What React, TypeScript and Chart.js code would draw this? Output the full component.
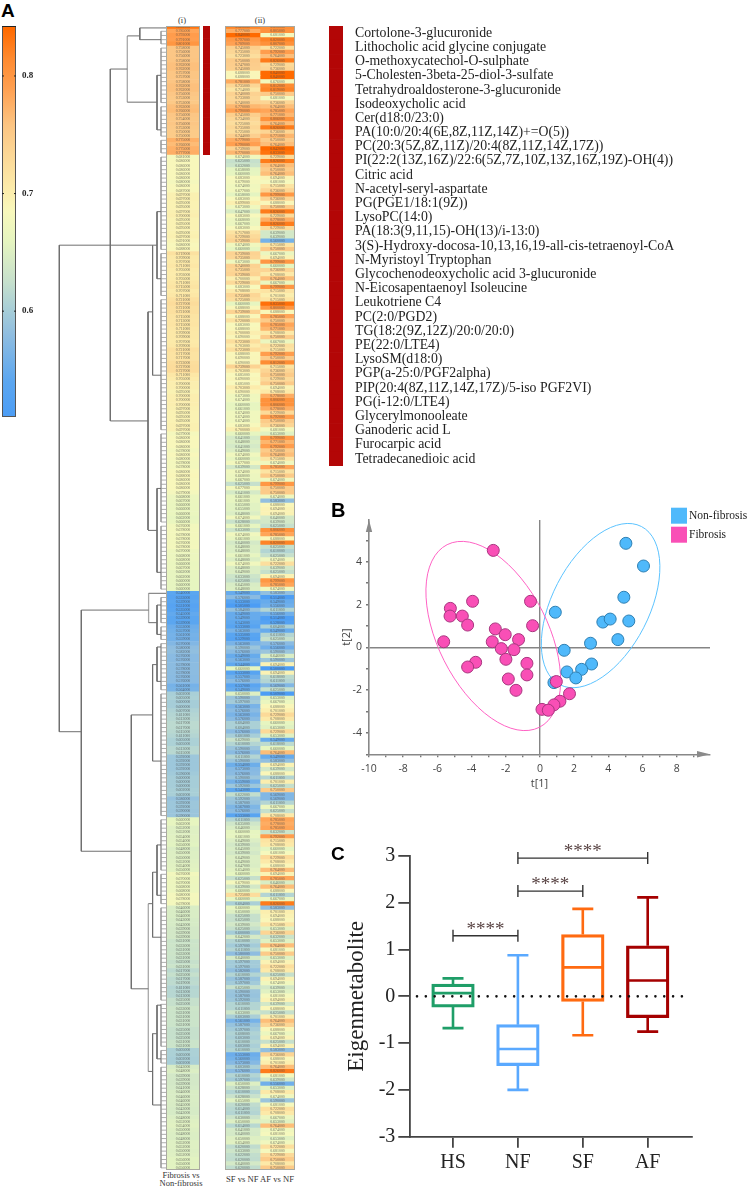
import React, { useEffect, useRef } from 'react';
import { Chart, registerables } from 'chart.js';

Chart.register(...registerables);

const SERIF = '"Liberation Serif"';
const SANS = '"Open Sans"';

// ---------- Panel A: heat map values, in thousandths ----------
const fibrosisVsNonFibrosis = [
  832,785,793,791,801,758,756,756,758,762,
  762,757,757,758,762,762,756,753,753,763,
  766,756,754,756,753,750,750,775,766,775,
  777,681,686,686,686,686,686,680,686,687,
  697,697,695,695,697,700,695,695,695,695,
  697,691,686,688,719,709,707,711,705,703,
  705,711,715,707,711,721,727,721,721,715,
  713,715,711,709,709,707,709,721,717,717,
  723,727,727,711,705,700,700,695,700,700,
  700,697,695,695,695,697,697,679,686,686,
  686,678,686,680,678,678,686,688,686,686,
  686,679,668,667,666,666,666,662,666,676,
  678,678,678,676,678,670,668,668,666,667,
  662,662,660,660,660,540,533,539,531,535,
  545,539,539,553,557,561,559,570,580,582,
  576,576,578,578,578,576,576,561,564,602,
  605,600,600,607,611,613,617,617,615,611,
  605,605,613,615,592,592,592,592,596,600,
  600,600,602,602,586,592,592,590,590,660,
  662,652,652,654,654,656,648,650,650,652,
  654,656,676,670,670,668,668,680,678,678,
  646,646,646,643,643,639,639,639,631,633,
  631,633,631,625,631,617,625,617,619,611,
  613,613,625,625,633,631,631,631,631,625,
  625,625,631,631,605,605,602,602,643,648,
  639,639,639,641,646,646,646,645,643,643,
  648,652,654,650,648,648,652,652,650,652,
  656,656,656,
];
const sfVsNf = [
  820,777,840,797,789,745,735,723,750,747,
  745,688,688,781,735,714,740,733,740,770,
  790,745,734,725,735,725,744,779,790,739,
  770,674,625,632,658,660,683,679,674,677,
  658,683,699,673,647,683,668,667,683,717,
  729,739,674,660,739,735,673,740,735,739,
  700,729,683,708,735,725,660,688,739,688,
  720,683,688,700,690,723,703,723,688,690,
  690,739,703,685,690,685,703,690,673,674,
  660,661,674,674,674,683,700,660,641,648,
  641,649,674,660,677,639,674,668,667,625,
  677,641,661,661,655,655,648,674,628,661,
  633,674,661,640,648,648,661,648,674,648,
  649,633,625,645,648,549,576,533,505,584,
  549,549,543,533,563,535,529,563,590,576,
  549,563,544,660,533,557,576,537,549,650,
  590,597,563,576,563,576,604,604,576,601,
  629,610,590,576,611,590,554,573,576,590,
  559,592,543,622,592,587,567,576,533,611,
  635,646,660,661,649,639,645,639,649,649,
  647,654,660,625,679,639,660,725,660,604,
  660,650,625,625,639,625,600,642,610,597,
  611,580,640,597,597,582,610,587,597,625,
  590,587,592,610,611,633,603,561,587,597,
  608,603,610,603,610,553,560,573,603,576,
  610,597,650,628,610,628,655,620,614,611,
  630,650,614,641,640,650,654,620,633,622,
  620,640,620,
];
const afVsNf = [
  810,805,681,820,807,722,792,764,826,729,
  736,840,840,676,812,819,750,681,736,764,
  785,771,806,764,826,736,771,750,764,842,
  833,729,826,764,750,764,694,681,715,736,
  799,736,688,750,826,729,778,826,729,639,
  639,560,715,750,667,694,799,660,736,708,
  764,667,799,715,701,715,835,800,688,785,
  750,785,771,708,750,667,722,715,792,750,
  812,715,736,750,729,750,694,708,778,806,
  806,778,729,792,750,736,681,653,799,771,
  792,750,764,715,674,785,715,750,674,799,
  750,750,674,583,688,694,694,640,639,625,
  806,785,688,820,625,610,625,674,722,639,
  625,694,799,785,674,583,514,549,556,611,
  556,514,528,604,549,611,625,576,556,590,
  646,590,694,500,694,618,611,569,625,509,
  653,667,688,701,729,708,660,653,729,653,
  549,618,660,764,549,583,694,639,688,611,
  701,625,750,569,569,611,667,625,708,785,
  778,785,632,792,715,708,660,681,729,708,
  688,764,694,785,646,764,688,611,667,826,
  583,701,694,688,715,653,736,632,653,764,
  681,750,653,694,722,708,625,694,674,639,
  653,681,694,639,688,625,701,764,736,688,
  667,694,625,694,583,736,688,701,764,826,
  681,639,556,653,708,674,590,681,722,708,
  667,653,764,674,681,653,674,722,681,729,
  750,708,750,
];

const colorStops: [number, string][] = [
  [0.51, '#4c9df5'], [0.54, '#5ba6f0'], [0.58, '#8fbde0'], [0.6, '#a6cdd8'], [0.625, '#c6e0cc'],
  [0.66, '#e6f5c0'], [0.685, '#f8f8bc'], [0.705, '#fcebaa'], [0.735, '#fcd695'], [0.758, '#fcc583'],
  [0.79, '#ff9f50'], [0.815, '#fe8a30'], [0.84, '#ff6a00'],
];

const metabolites = [
  'Cortolone-3-glucuronide', 'Lithocholic acid glycine conjugate', 'O-methoxycatechol-O-sulphate',
  '5-Cholesten-3beta-25-diol-3-sulfate', 'Tetrahydroaldosterone-3-glucuronide', 'Isodeoxycholic acid',
  'Cer(d18:0/23:0)', 'PA(10:0/20:4(6E,8Z,11Z,14Z)+=O(5))', 'PC(20:3(5Z,8Z,11Z)/20:4(8Z,11Z,14Z,17Z))',
  'PI(22:2(13Z,16Z)/22:6(5Z,7Z,10Z,13Z,16Z,19Z)-OH(4))', 'Citric acid', 'N-acetyl-seryl-aspartate',
  'PG(PGE1/18:1(9Z))', 'LysoPC(14:0)', 'PA(18:3(9,11,15)-OH(13)/i-13:0)',
  '3(S)-Hydroxy-docosa-10,13,16,19-all-cis-tetraenoyl-CoA', 'N-Myristoyl Tryptophan',
  'Glycochenodeoxycholic acid 3-glucuronide', 'N-Eicosapentaenoyl Isoleucine', 'Leukotriene C4',
  'PC(2:0/PGD2)', 'TG(18:2(9Z,12Z)/20:0/20:0)', 'PE(22:0/LTE4)', 'LysoSM(d18:0)', 'PGP(a-25:0/PGF2alpha)',
  'PIP(20:4(8Z,11Z,14Z,17Z)/5-iso PGF2VI)', 'PG(i-12:0/LTE4)', 'Glycerylmonooleate', 'Ganoderic acid L',
  'Furocarpic acid', 'Tetradecanedioic acid',
];

// dendrogram, in rows (y) and distance from the leaves (x)
const leafClusters = [[1,4],[5,18],[19,26],[27,30],[31,53],[54,64],[65,96],[97,118],[119,134],[136,142],[143,146],[147,158],[159,188],[189,201],[202,209],[210,232],[233,243],[244,247],[248,272]];
const branchVerticals = [[26.2,0.2,3],[9,11.5,24.5],[55.7,10,93.9],[106.7,52,168],[84.7,139,196.5],[13.4,52.1,83],[9,44,60],[18,67.9,119.9],[9,110,130],[9,137.8,144.8],[13.4,152,175],[9,147.8,156],[34.7,164,229.3],[13.4,201.5,217],[9,195,207],[13.4,240,257],[9,233.2,246]];
const lightVerticals = [[38.7,2.1,17.9],[17.4,135,142],[17.7,209,249]];
const branchHorizontals = [[0.2,26.2,0],[3,26.2,5],[2.1,38.7,26.2],[17.9,38.7,9],[10,55.7,38.7],[93.9,55.7,18],[52,106.7,9],[44,9,5],[60,9,5],[67.9,18,13.4],[83,13.4,5],[120,18,9],[110,9,5],[130,9,5],[168,106.7,84.7],[139,84.7,17.4],[135,17.4,0],[142,17.4,9],[137.8,9,5],[144.8,9,5],[196.5,84.7,34.7],[164,34.7,13.4],[152,13.4,9],[147.8,9,5],[156,9,5],[175,13.4,5],[229.3,34.7,17.7],[209,17.7,13.4],[201.5,13.4,9],[195,9,5],[207,9,5],[217,13.4,5],[249,17.7,13.4],[240,13.4,9],[233.2,9,5],[246,9,5],[257,13.4,5],[11.5,9,5],[24.5,9,5]];

// ---------- Panel B ----------
const nonFibrosisX = [5.03,6.06,4.91,0.9,3.68,4.11,5.2,4.56,2.96,1.42,3.02,2.44,1.58,2.1,0.82];
const nonFibrosisY = [4.86,3.8,2.34,1.64,1.18,1.32,1.23,0.36,0.19,-0.14,-0.78,-1.03,-1.15,-1.43,-1.65];
const fibrosisX = [-2.73,-3.94,-0.55,-5.24,-5.26,-4.54,-4.23,-0.43,-2.61,-2.03,-1.25,-5.63,-2.79,-2.26,-1.52,-1.99,-0.76,-3.76,-4.23,-0.76,-1.85,-1.4,0.96,1.73,1.17,0.82,0.12,0.49];
const fibrosisY = [4.53,2.15,2.15,1.82,1.46,1.46,1.04,1.01,0.86,0.59,0.36,0.26,0.26,-0.06,-0.11,-0.56,-0.75,-0.7,-0.92,-1.29,-1.48,-2.01,-1.6,-2.17,-2.52,-2.69,-2.9,-2.94];

// ---------- Panel C ----------
const groups = ['HS', 'NF', 'SF', 'AF'];
const whiskerHigh = [0.385, 0.88, 1.87, 2.115];
const quartile3 = [0.26, -0.605, 1.32, 1.08];
const medians = [0.07, -1.125, 0.62, 0.34];
const quartile1 = [-0.23, -1.48, -0.11, -0.455];
const whiskerLow = [-0.68, -2.0, -0.83, -0.755];
const groupColors = ['#1f9e68', '#5aa9ff', '#ff6a10', '#a50000'];
const sigFrom = [0, 1, 1];
const sigTo = [1, 2, 3];
const sigLevel = [1.296, 2.25, 2.955];

// ---------- helpers ----------
const hex = (c: string) => [1, 3, 5].map((i) => parseInt(c.slice(i, i + 2), 16));
function heatColor(v: number) {
  if (v <= colorStops[0][0]) return colorStops[0][1];
  for (let i = 1; i < colorStops.length; i++) {
    if (v <= colorStops[i][0]) {
      const [a, ca] = colorStops[i - 1];
      const [b, cb] = colorStops[i];
      const t = (v - a) / (b - a);
      const x = hex(ca), y = hex(cb);
      return `rgb(${x.map((q, k) => Math.round(q + (y[k] - q) * t)).join(',')})`;
    }
  }
  return colorStops[colorStops.length - 1][1];
}

const fit = (w?: number, h?: number) => (s: any) => {
  if (w !== undefined) s.width = w;
  if (h !== undefined) s.height = h;
  s.paddingTop = s.paddingBottom = s.paddingLeft = s.paddingRight = 0;
};
const base = {
  responsive: false,
  animation: false,
  events: [],
  layout: { padding: 0 },
};
const quiet = { legend: { display: false }, tooltip: { enabled: false } };
const ROW_MIN = -0.26;
const ROW_MAX = 272.5;
const rowAxis = { type: 'linear', display: false, reverse: true, min: ROW_MIN, max: ROW_MAX, offset: false };

function heatConfig(cols: number[][]) {
  return {
    type: 'bar',
    data: {
      datasets: cols.map((col, c) => ({
        data: col.map((_, r) => ({ y: r, x: [c, c + 1] })),
        backgroundColor: col.map((v) => heatColor(v / 1000)),
        barPercentage: 1,
        categoryPercentage: 1,
        grouped: false,
      })),
    },
    options: {
      ...base,
      indexAxis: 'y',
      plugins: quiet,
      scales: { x: { type: 'linear', display: false, min: 0, max: cols.length }, y: rowAxis },
    },
    plugins: [{
      id: 'cells',
      afterDatasetsDraw(chart: any) {
        const { ctx, scales, chartArea: a } = chart;
        ctx.save();
        ctx.beginPath();
        ctx.rect(a.left, a.top, a.width, a.height);
        ctx.clip();
        ctx.font = `3.9px ${SERIF}`;
        ctx.fillStyle = 'rgba(70,70,70,0.72)';
        ctx.textAlign = 'center';
        ctx.textBaseline = 'middle';
        cols.forEach((col, c) => {
          const x = scales.x.getPixelForValue(c + 0.5);
          col.forEach((v, r) => ctx.fillText((v / 1000).toFixed(6), x, scales.y.getPixelForValue(r)));
        });
        ctx.restore();
        ctx.strokeStyle = '#a9a9a0';
        ctx.lineWidth = 1;
        ctx.strokeRect(a.left + 0.5, a.top + 0.5, a.width - 1, a.height - 1);
      },
    }],
  };
}

function redBarConfig(labels: string[], axisWidth: number) {
  return {
    type: 'bar',
    data: {
      labels,
      datasets: [{ data: labels.map(() => 1), backgroundColor: '#b30606', barPercentage: 1, categoryPercentage: 1 }],
    },
    options: {
      ...base,
      indexAxis: 'y',
      plugins: quiet,
      scales: {
        x: { display: false, min: 0, max: 1 },
        y: axisWidth
          ? {
              position: 'right',
              afterFit: fit(axisWidth),
              border: { display: false },
              grid: { display: false, drawTicks: false },
              ticks: { autoSkip: false, padding: 12, color: '#222', font: { family: SERIF, size: 13.8 } },
            }
          : { display: false },
      },
    },
  };
}

function segments(list: number[][], vertical: boolean) {
  const out: any[] = [];
  list.forEach(([p, a, b]) => {
    if (vertical) out.push({ x: p, y: a }, { x: p, y: b });
    else out.push({ x: a, y: p }, { x: b, y: p });
    out.push({ x: NaN, y: NaN });
  });
  return out;
}
const leafStubs = fibrosisVsNonFibrosis.map((_, r) => [r, 5, 0]).filter(([r]) => r !== 0 && r !== 135);
const lineSet = (data: any[], color: string, width: number) => ({
  data, borderColor: color, borderWidth: width, showLine: true, pointRadius: 0, spanGaps: false, tension: 0,
});
const dendroConfig = {
  type: 'scatter',
  data: {
    datasets: [
      lineSet([...segments(branchVerticals, true), ...segments(branchHorizontals, false)], '#6e6e6e', 1),
      lineSet(segments(lightVerticals, true), '#a8a8a8', 1.3),
      lineSet([...segments(leafClusters.map(([a, b]) => [5, a, b]), true), ...segments(leafStubs, false)], '#999999', 0.8),
    ],
  },
  options: {
    ...base,
    plugins: quiet,
    scales: { x: { type: 'linear', display: false, reverse: true, min: 0, max: 116 }, y: rowAxis },
  },
};

const colorbarConfig = {
  type: 'bar',
  data: {
    labels: ['scale'],
    datasets: [{
      data: [[0.51, 0.8425]],
      barPercentage: 1,
      categoryPercentage: 1,
      backgroundColor: (c: any) => {
        const { chart } = c;
        const a = chart.chartArea;
        if (!a) return '#fff';
        const g = chart.ctx.createLinearGradient(0, a.top, 0, a.bottom);
        colorStops.forEach(([v, col]) => {
          g.addColorStop(Math.min(1, Math.max(0, (chart.scales.y.getPixelForValue(v) - a.top) / a.height)), col);
        });
        return g;
      },
    }],
  },
  options: {
    ...base,
    layout: { padding: { left: 2 } },
    plugins: quiet,
    scales: {
      x: { display: false },
      y: {
        position: 'right',
        min: 0.51,
        max: 0.8425,
        afterFit: fit(24),
        border: { display: false },
        grid: { drawOnChartArea: false, drawTicks: false },
        ticks: {
          stepSize: 0.1,
          includeBounds: false,
          padding: 6,
          color: '#222',
          font: { family: SERIF, size: 9, weight: 'bold' },
          callback: (v: number) => v.toFixed(1),
        },
      },
    },
  },
  plugins: [{
    id: 'frame',
    afterDatasetsDraw(chart: any) {
      const { ctx, chartArea: a, scales } = chart;
      ctx.save();
      ctx.strokeStyle = '#555';
      ctx.lineWidth = 1;
      ctx.strokeRect(a.left + 0.5, a.top + 0.5, a.width - 1, a.height - 1);
      ctx.strokeStyle = '#222';
      ctx.beginPath();
      ctx.moveTo(a.left, a.top + 0.5);
      ctx.lineTo(a.right, a.top + 0.5);
      scales.y.ticks.forEach((t: any) => {
        const y = scales.y.getPixelForValue(t.value);
        ctx.moveTo(a.left, y); ctx.lineTo(a.left + 2, y);
        ctx.moveTo(a.right - 2, y); ctx.lineTo(a.right, y);
      });
      ctx.stroke();
      ctx.restore();
    },
  }],
};

const ellipseCenterX = [3.55, -2.73];
const ellipseCenterY = [1.95, 0.53];
const ellipseColors = ['#5cc3ff', '#ff62c4'];

const pairs = (xs: number[], ys: number[]) => xs.map((x, i) => ({ x, y: ys[i] }));
const scoreAxisGrid = {
  color: (c: any) => (c.tick && c.tick.value === 0 ? '#858585' : 'transparent'),
  lineWidth: 1.4,
  tickColor: '#777',
  tickLength: 3,
};
const scoreTicks = {
  stepSize: 1,
  includeBounds: false,
  autoSkip: false,
  maxRotation: 0,
  color: '#444',
  font: { family: SANS, size: 10.5 },
  callback: (v: number) => (v % 2 === 0 ? String(v) : ''),
};
const scoreConfig = {
  type: 'scatter',
  data: {
    datasets: [
      { label: 'Fibrosis', data: pairs(fibrosisX, fibrosisY), backgroundColor: '#f94fb6', borderColor: '#a8367f', borderWidth: 1, pointRadius: 6 },
      { label: 'Non-fibrosis', data: pairs(nonFibrosisX, nonFibrosisY), backgroundColor: '#4fb9fb', borderColor: '#2e7fb2', borderWidth: 1, pointRadius: 6 },
    ],
  },
  options: {
    ...base,
    layout: { padding: { top: 30, right: 39 } },
    plugins: quiet,
    scales: {
      x: {
        type: 'linear', min: -10, max: 9.95, afterFit: fit(undefined, 75.7),
        border: { color: '#888', width: 1.6 }, grid: scoreAxisGrid,
        ticks: { ...scoreTicks, padding: 5 },
        title: { display: true, text: 't[1]', color: '#444', font: { family: SANS, size: 11 }, padding: { top: 0, bottom: 40 } },
      },
      y: {
        type: 'linear', min: -5, max: 5.95, afterFit: fit(39),
        border: { color: '#888', width: 1.6 }, grid: scoreAxisGrid,
        ticks: { ...scoreTicks, padding: 4 },
        title: { display: true, text: 't[2]', color: '#444', font: { family: SANS, size: 11 }, padding: { top: 10, bottom: 0 } },
      },
    },
  },
  plugins: [{
    id: 'ellipses',
    beforeDatasetsDraw(chart: any) {
      const { ctx, scales } = chart;
      const radiiA = [89, 102.3];
      const radiiB = [48.4, 55];
      const angle = [-62.7, 63.2];
      ctx.save();
      ctx.lineWidth = 1;
      ellipseColors.forEach((col, i) => {
        ctx.strokeStyle = col;
        ctx.beginPath();
        ctx.ellipse(scales.x.getPixelForValue(ellipseCenterX[i]), scales.y.getPixelForValue(ellipseCenterY[i]), radiiA[i], radiiB[i], (angle[i] * Math.PI) / 180, 0, Math.PI * 2);
        ctx.stroke();
      });
      ctx.restore();
    },
    afterDatasetsDraw(chart: any) {
      const { ctx, chartArea: a, data } = chart;
      ctx.save();
      ctx.fillStyle = '#8a8a8a';
      ctx.beginPath();
      ctx.moveTo(a.left, a.top);
      ctx.lineTo(a.left - 3.2, a.top + 12);
      ctx.lineTo(a.left + 3.2, a.top + 12);
      ctx.closePath();
      ctx.moveTo(a.right, a.bottom);
      ctx.lineTo(a.right - 13, a.bottom - 3.2);
      ctx.lineTo(a.right - 13, a.bottom + 3.2);
      ctx.closePath();
      ctx.fill();
      // legend
      ctx.font = `11.5px ${SERIF}`;
      ctx.textBaseline = 'middle';
      ctx.textAlign = 'left';
      [data.datasets[1], data.datasets[0]].forEach((d: any, i: number) => {
        const top = 17.7 + i * 19;
        ctx.fillStyle = d.backgroundColor;
        ctx.fillRect(341, top, 16, 16);
        ctx.fillStyle = '#222';
        ctx.fillText(d.label, 359, top + 8);
      });
      ctx.restore();
    },
  }],
};

const boxConfig = {
  type: 'bar',
  data: {
    datasets: [{
      data: groups.map((_, i) => ({ x: i, y: [quartile1[i], quartile3[i]] })),
      backgroundColor: 'transparent',
      borderColor: groupColors,
      borderWidth: 2.6,
      borderSkipped: false,
      barThickness: 42.6,
    }],
  },
  options: {
    ...base,
    layout: { padding: { top: 26, right: 57.3 } },
    plugins: quiet,
    scales: {
      x: {
        type: 'linear', min: -0.6626, max: 3.678, offset: false, afterFit: fit(undefined, 51.3),
        afterBuildTicks: (s: any) => { s.ticks = groups.map((_, i) => ({ value: i })); },
        border: { color: '#444', width: 1.8 },
        grid: { offset: false, drawOnChartArea: false, tickColor: '#444', tickLength: 11, lineWidth: 1.8 },
        ticks: { autoSkip: false, maxRotation: 0, padding: 3, color: '#222', font: { family: SERIF, size: 20 }, callback: (v: number) => groups[v] },
      },
      y: {
        type: 'linear', min: -3, max: 3, afterFit: fit(80),
        border: { color: '#444', width: 1.8 },
        grid: { drawOnChartArea: false, tickColor: '#444', tickLength: 11.7, lineWidth: 1.8 },
        ticks: { stepSize: 1, padding: 3, color: '#222', font: { family: SERIF, size: 20 }, callback: (v: number) => String(v) },
        title: { display: true, text: 'Eigenmetabolite', color: '#222', font: { family: SERIF, size: 23 }, padding: { top: 13, bottom: 0 } },
      },
    },
  },
  plugins: [{
    id: 'boxParts',
    afterDatasetsDraw(chart: any) {
      const { ctx, scales: { x, y } } = chart;
      ctx.save();
      ctx.lineWidth = 2.6;
      groups.forEach((_, i) => {
        const cx = x.getPixelForValue(i);
        ctx.strokeStyle = groupColors[i];
        ctx.beginPath();
        ctx.moveTo(cx, y.getPixelForValue(quartile3[i])); ctx.lineTo(cx, y.getPixelForValue(whiskerHigh[i]));
        ctx.moveTo(cx - 10.5, y.getPixelForValue(whiskerHigh[i])); ctx.lineTo(cx + 10.5, y.getPixelForValue(whiskerHigh[i]));
        ctx.moveTo(cx, y.getPixelForValue(quartile1[i])); ctx.lineTo(cx, y.getPixelForValue(whiskerLow[i]));
        ctx.moveTo(cx - 10.5, y.getPixelForValue(whiskerLow[i])); ctx.lineTo(cx + 10.5, y.getPixelForValue(whiskerLow[i]));
        ctx.moveTo(cx - 20.5, y.getPixelForValue(medians[i])); ctx.lineTo(cx + 20.5, y.getPixelForValue(medians[i]));
        ctx.stroke();
      });
      // dotted zero line
      ctx.strokeStyle = '#111';
      ctx.lineWidth = 2.6;
      ctx.lineCap = 'round';
      ctx.setLineDash([0, 8.83]);
      ctx.beginPath();
      ctx.moveTo(x.left + 7, y.getPixelForValue(0));
      ctx.lineTo(x.right - 1, y.getPixelForValue(0));
      ctx.stroke();
      ctx.setLineDash([]);
      ctx.lineCap = 'butt';
      // significance brackets
      ctx.strokeStyle = '#333';
      ctx.lineWidth = 1.4;
      sigLevel.forEach((lvl, i) => {
        const x0 = x.getPixelForValue(sigFrom[i]);
        const x1 = x.getPixelForValue(sigTo[i]);
        const py = y.getPixelForValue(lvl);
        ctx.beginPath();
        ctx.moveTo(x0, py - 6); ctx.lineTo(x0, py + 6);
        ctx.moveTo(x0, py); ctx.lineTo(x1, py);
        ctx.moveTo(x1, py - 6); ctx.lineTo(x1, py + 6);
        ctx.stroke();
        ctx.fillStyle = '#5a4545';
        ctx.font = `19px ${SERIF}`;
        ctx.textAlign = 'center';
        ctx.textBaseline = 'middle';
        ctx.fillText('****', (x0 + x1) / 2, py - 6);
      });
      ctx.restore();
    },
  }],
};

type Panel = { left: number; top: number; width: number; height: number; config: any };
const panels: Panel[] = [
  { left: 0, top: 26, width: 40, height: 391, config: colorbarConfig },
  { left: 50, top: 26, width: 116, height: 1144, config: dendroConfig },
  { left: 166, top: 26, width: 34, height: 1144, config: heatConfig([fibrosisVsNonFibrosis]) },
  { left: 203, top: 26, width: 7, height: 129, config: redBarConfig(fibrosisVsNonFibrosis.slice(0, 31).map((_, i) => String(i)), 0) },
  { left: 225, top: 26, width: 70, height: 1144, config: heatConfig([sfVsNf, afVsNf]) },
  { left: 329, top: 26, width: 420, height: 440, config: redBarConfig(metabolites, 406) },
  { left: 330, top: 490, width: 419, height: 340, config: scoreConfig },
  { left: 330, top: 830, width: 419, height: 358, config: boxConfig },
];

type Cap = { text: string; x: number; y: number; size: number; family?: string; weight?: string; center?: boolean; color?: string };
const captions: Cap[] = [
  { text: 'A', x: 1, y: 0, size: 19, family: '"Liberation Sans"', weight: 'bold', color: '#000' },
  { text: 'B', x: 331, y: 498, size: 20, family: '"Liberation Sans"', weight: 'bold', color: '#000' },
  { text: 'C', x: 331, y: 843, size: 19, family: '"Liberation Sans"', weight: 'bold', color: '#000' },
  { text: '(i)', x: 182, y: 15, size: 8.5, center: true },
  { text: '(ii)', x: 260, y: 15, size: 8.5, center: true },
  { text: 'Fibrosis vs', x: 181, y: 1170, size: 8.5, center: true },
  { text: 'Non-fibrosis', x: 181, y: 1178, size: 8.5, center: true },
  { text: 'SF vs NF AF vs NF', x: 260, y: 1174, size: 8.6, center: true },
];

export default function App() {
  const refs = useRef<(HTMLCanvasElement | null)[]>([]);
  useEffect(() => {
    const charts = panels.map((p, i) => new Chart(refs.current[i] as HTMLCanvasElement, p.config));
    return () => charts.forEach((c) => c.destroy());
  }, []);
  return (
    <div style={{ position: 'absolute', left: 0, top: 0, width: 749, height: 1188, overflow: 'hidden', background: '#fff' }}>
      {panels.map((p, i) => (
        <canvas
          key={i}
          ref={(el) => { refs.current[i] = el; }}
          width={p.width}
          height={p.height}
          style={{ position: 'absolute', left: p.left, top: p.top, width: p.width, height: p.height }}
        />
      ))}
      {captions.map((c) => (
        <div
          key={c.text}
          style={{
            position: 'absolute',
            left: c.x,
            top: c.y,
            fontFamily: c.family || SERIF,
            fontWeight: c.weight || 'normal',
            fontSize: c.size,
            lineHeight: 1.2,
            color: c.color || '#333',
            whiteSpace: 'nowrap',
            transform: c.center ? 'translateX(-50%)' : undefined,
          }}
        >
          {c.text}
        </div>
      ))}
    </div>
  );
}
